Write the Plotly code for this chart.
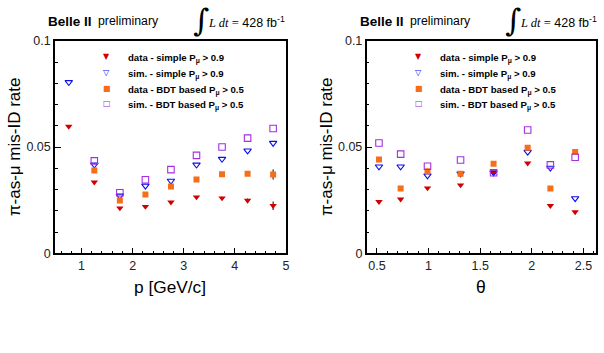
import plotly.graph_objects as go

# ---------------- data ----------------
p_bins = [0.75, 1.25, 1.75, 2.25, 2.75, 3.25, 3.75, 4.25, 4.75]
p_data_simple = [0.0597, 0.0335, 0.0213, 0.0220, 0.0241, 0.0265, 0.0260, 0.0249, 0.0224]
p_data_simple_err = [0.0003, 0.0003, 0.0003, 0.0003, 0.0004, 0.0005, 0.0006, 0.0009, 0.0020]
p_sim_simple = [0.0805, 0.0417, 0.0271, 0.0318, 0.0341, 0.0417, 0.0444, 0.0483, 0.0519]
p_data_bdt = [None, 0.0390, 0.0249, 0.0277, 0.0315, 0.0347, 0.0372, 0.0375, 0.0371]
p_data_bdt_err = [0, 0.0003, 0.0003, 0.0003, 0.0004, 0.0005, 0.0006, 0.0010, 0.0024]
p_sim_bdt = [None, 0.0435, 0.0285, 0.0346, 0.0394, 0.0461, 0.0500, 0.0542, 0.0587]

th_bins = [0.52, 0.73, 0.99, 1.31, 1.63, 1.96, 2.18, 2.42]
th_data_simple = [0.0243, 0.0255, 0.0307, 0.0321, 0.0382, 0.0424, 0.0224, 0.0195]
th_sim_simple = [0.0408, 0.0408, 0.0366, 0.0375, 0.0380, 0.0477, 0.0402, 0.0259]
th_data_bdt = [0.0441, 0.0305, 0.0386, 0.0375, 0.0422, 0.0497, 0.0305, 0.0477]
th_sim_bdt = [0.0519, 0.0467, 0.0410, 0.0439, 0.0379, 0.0580, 0.0416, 0.0452]

legend_labels = [
    "data - simple P<sub>μ</sub> > 0.9",
    "sim. - simple P<sub>μ</sub> > 0.9",
    "data - BDT based P<sub>μ</sub> > 0.5",
    "sim. - BDT based P<sub>μ</sub> > 0.5",
]
legend_glyphs = ["▼", "▽", "■", "□"]
y_title = "π-as-μ mis-ID rate"
x_titles = ["p [GeV/c]", "θ"]

# ---------------- styles ----------------
RED = "#d00000"
BLUE = "#0a0aee"
ORANGE = "#f66d1a"
PURPLE = "#a52ee0"
colors = [RED, BLUE, ORANGE, PURPLE]
SANS = "Liberation Sans, Arial, sans-serif"

W, H = 604, 353
# screen-pixel -> paper fraction (with empirical correction of the rendering)
def px(x):
    return (x / 0.9937) / W
def py(y):
    yf = (y - 6.25) / 0.9606
    return 1 - yf / H

fig = go.Figure()

def add_series(x, ys, xa, ya, errs):
    styles = [
        dict(symbol="triangle-down", size=6.5, color=RED, line=dict(width=0)),
        dict(symbol="triangle-down-open", size=6.5, color=BLUE, line=dict(width=1.1, color=BLUE)),
        dict(symbol="square", size=6, color=ORANGE, line=dict(width=0)),
        dict(symbol="square-open", size=6.5, color=PURPLE, line=dict(width=1.1, color=PURPLE)),
    ]
    for i, (y, st) in enumerate(zip(ys, styles)):
        tr = dict(x=x, y=y, mode="markers", marker=st, xaxis=xa, yaxis=ya,
                  showlegend=False, hoverinfo="x+y")
        if errs[i] is not None:
            tr["error_y"] = dict(type="data", array=errs[i], color="black",
                                 thickness=1, width=0, visible=True)
        fig.add_trace(go.Scatter(**tr))

add_series(p_bins, [p_data_simple, p_sim_simple, p_data_bdt, p_sim_bdt], "x", "y",
           [p_data_simple_err, None, p_data_bdt_err, None])
add_series(th_bins, [th_data_simple, th_sim_simple, th_data_bdt, th_sim_bdt], "x2", "y2",
           [None, None, None, None])

axis_common = dict(
    showline=True, linecolor="black", linewidth=1.5, mirror=True,
    ticks="inside", ticklen=6, tickwidth=1, tickcolor="black",
    showgrid=False, zeroline=False,
    tickfont=dict(family=SANS, size=12.5, color="#222"),
)

ydom = [py(252.7), py(40)]
fig.update_layout(
    width=W, height=H,
    margin=dict(l=0, r=0, t=0, b=0),
    paper_bgcolor="white", plot_bgcolor="white",
    xaxis=dict(domain=[px(55), px(286)], range=[0.48, 5.0], dtick=1, tick0=0,
               minor=dict(dtick=0.2, tick0=0, ticks="inside", ticklen=3, tickcolor="black"),
               anchor="y", **axis_common),
    yaxis=dict(domain=ydom, range=[0, 0.1], dtick=0.05, tick0=0,
               minor=dict(dtick=0.01, tick0=0, ticks="inside", ticklen=3, tickcolor="black"),
               anchor="x", **axis_common),
    xaxis2=dict(domain=[px(366.7), px(596)], range=[0.4, 2.62], dtick=0.5, tick0=0,
                minor=dict(dtick=0.1, tick0=0, ticks="inside", ticklen=3, tickcolor="black"),
                anchor="y2", **axis_common),
    yaxis2=dict(domain=ydom, range=[0, 0.1], dtick=0.05, tick0=0,
                minor=dict(dtick=0.01, tick0=0, ticks="inside", ticklen=3, tickcolor="black"),
                anchor="x2", **axis_common),
)

ann = []
def text(x, y, t, size, family=SANS, color="black", xanchor="left", angle=0, yanchor="middle"):
    ann.append(dict(x=px(x), y=py(y), xref="paper", yref="paper", text=t, showarrow=False,
                    xanchor=xanchor, yanchor=yanchor, textangle=angle,
                    font=dict(family=family, size=size, color=color)))

for off in [0, 311.7]:
    # header
    text(46 + off, 20.5, "<b>Belle II</b>", 13.5)
    text(96 + off, 20.5, "preliminary", 12.3)
    text(201 + off, 19.5, "∫", 31, family="DejaVu Serif", xanchor="center")
    text(206.5 + off, 21,
         "<span style='font-family:Liberation Serif'><i>L dt</i> =</span> 428 fb<sup>-1</sup>", 12.5)
    # legend
    for i, (g, lab) in enumerate(zip(legend_glyphs, legend_labels)):
        yy = [56, 72, 88, 103][i]
        text(107 + off + (0.4 if i >= 2 else 0), yy, g, 8, family="DejaVu Sans",
             color=colors[i], xanchor="center")
        text(126 + off, yy + 1.5, "<b>" + lab + "</b>", 9.6)

# axis titles
text(14.5, 146, y_title, 17, xanchor="center", angle=-90)
text(326.5, 146, y_title, 17, xanchor="center", angle=-90)
text(170, 286.5, x_titles[0], 17.3, xanchor="center")
text(481, 286.5, x_titles[1], 17.5, xanchor="center")

fig.update_layout(annotations=ann)
fig.write_html("out.html")
